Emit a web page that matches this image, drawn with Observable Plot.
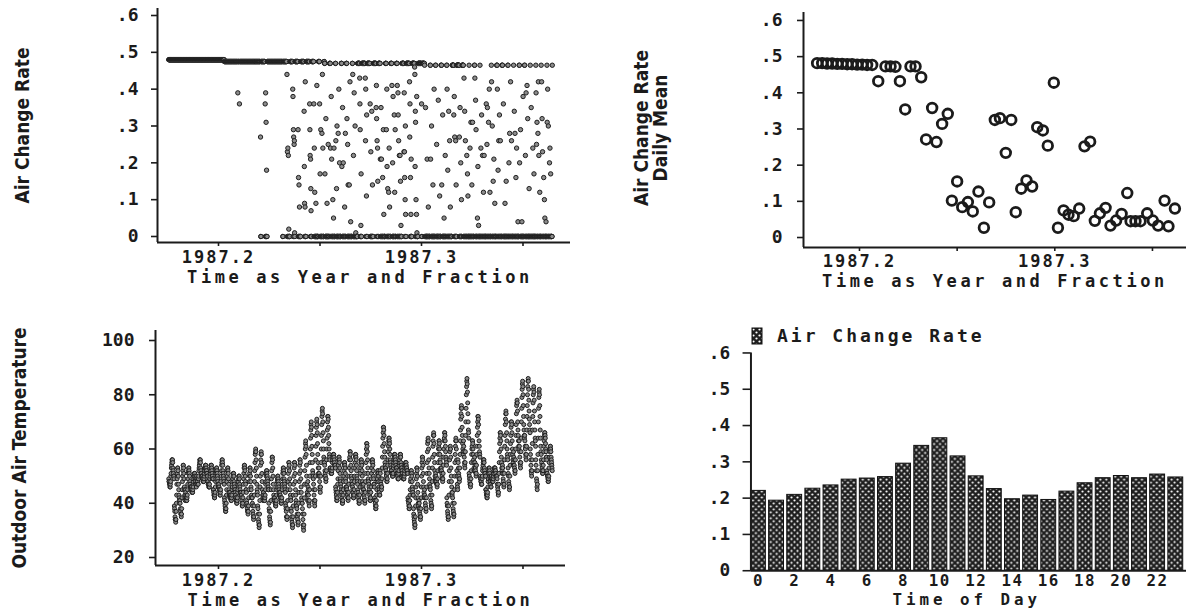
<!DOCTYPE html>
<html><head><meta charset="utf-8">
<script src="https://cdn.jsdelivr.net/npm/d3@7"></script>
<script src="https://cdn.jsdelivr.net/npm/@observablehq/plot@0.6"></script>
<style>
html,body{margin:0;padding:0;background:#fff;overflow:hidden;}
#chart{position:relative;width:1186px;height:611px;overflow:hidden;background:#fff;}
.panel{position:absolute;}
.panel svg{display:block;overflow:visible;}
g[aria-label="x-axis tick label"] text{letter-spacing:2px;}
.hourPanel g[aria-label="x-axis tick label"] text{letter-spacing:1.5px;}
#legend{position:absolute;left:752px;top:325px;}
#legend div{min-height:0 !important;margin:0 !important;}
#legend svg{margin-right:15px !important;}
#legend rect{stroke:#111;stroke-width:1px;}
</style></head>
<body>
<svg width="0" height="0" style="position:absolute"><defs>
<pattern id="acrDots" patternUnits="userSpaceOnUse" width="6" height="6">
<rect width="6" height="6" fill="#1e1e1e"/><circle cx="1.5" cy="1.5" r="1.1" fill="#fff"/><circle cx="4.5" cy="4.5" r="1.1" fill="#fff"/>
</pattern></defs></svg>
<div id="chart"></div>
<script>
// ---------- text ----------
const yTitleRate = "Air Change Rate";
const yTitleDaily = "Air Change Rate\nDaily Mean";
const yTitleTemp = "Outdoor Air Temperature";
const xTitleTime = "Time as Year and Fraction";
const xTitleHour = "Time of Day";
const legendLabel = "Air Change Rate";

// ---------- ticks ----------
const rateTicks = [0, 0.1, 0.2, 0.3, 0.4, 0.5, 0.6];
const rateTickLabels = ["0", ".1", ".2", ".3", ".4", ".5", ".6"];
const tempTicks = [20, 40, 60, 80, 100];
const tempTickLabels = ["20", "40", "60", "80", "100"];
const yearTicks = [1987.2, 1987.3];
const yearTickLabels = ["1987.2", "1987.3"];
const yearMinorTicks = [1987.2, 1987.25, 1987.3, 1987.35];
const hourTicks = [0, 2, 4, 6, 8, 10, 12, 14, 16, 18, 20, 22];
const hourTickLabels = ["0", "2", "4", "6", "8", "10", "12", "14", "16", "18", "20", "22"];

// ---------- hourly series (one row = one day, 24 hours) ----------
const hourlyStart = 1987.1755;   // decimal year of first hourly reading
const hoursPerYear = 8760;

// air change rate, hundredths
const acrHourlyPct = [
48,48,48,48,48,48,48,48,48,48,48,48,48,48,48,48,48,48,48,48,48,48,48,48,
48,48,48,48,48,48,48,48,48,48,48,48,48,48,48,48,48,48,48,48,48,48,48,48,
48,48,48,48,48,48,48,48,48,48,48,48,48,48,48,48,48,48,48,48,48,48,48,48,
48,48,48,48,48,48,48,48,48,48,48,48,48,48,48,48,48,48,48,48,48,48,48,48,
48,48,48,48,48,48,48,48,48,48,48,48,48,48,48,48,48,48,48,48,48,48,48,48,
48,48,48,48,48,48,48,48,48,48,48,48,48,48,48,48,48,48,48,48,48,48,48,48,
48,48,48,48,48,48,48,48,48,48,48,48,48,48,48,48,48,48,48,48,48,48,48,48,
48,48,48,48,48,48,48,48,48,48,48,48,48,48,48,48,48,48,48,48,48,48,48,48,
48,48,48,48,48,48,48,48,48,48,48,48,48,48,48,48,48,48,48,48,48,48,48,48,
48,48,48,48,48,48,48,48,48,48,48,48,48,48,48,48,48,48,48,48,48,48,48,48,
47.5,47.5,47.5,47.5,47.5,47.5,47.5,47.5,47.5,47.5,47.5,47.5,47.5,47.5,47.5,47.5,47.5,47.5,47.5,47.5,47.5,47.5,47.5,47.5,
47.5,47.5,47.5,47.5,47.5,47.5,47.5,47.5,47.5,47.5,47.5,47.5,47.5,47.5,47.5,47.5,47.5,47.5,47.5,47.5,47.5,47.5,47.5,47.5,
47.5,47.5,47.5,47.5,47.5,47.5,47.5,47.5,47.5,47.5,39,47.5,47.5,47.5,47.5,47.5,47.5,36,47.5,47.5,47.5,47.5,47.5,47.5,
47.5,47.5,47.5,47.5,47.5,47.5,47.5,47.5,47.5,47.5,47.5,47.5,47.5,47.5,47.5,47.5,47.5,47.5,47.5,47.5,47.5,47.5,47.5,47.5,
47.5,47.5,47.5,47.5,47.5,47.5,47.5,47.5,47.5,47.5,47.5,47.5,47.5,47.5,47.5,47.5,47.5,47.5,47.5,47.5,47.5,47.5,47.5,47.5,
47.5,47.5,47.5,47.5,47.5,47.5,47.5,47.5,47.5,47.5,47.5,47.5,47.5,47.5,47.5,47.5,47.5,47.5,47.5,47.5,47.5,47.5,47.5,47.5,
47.5,47.5,47.5,47.5,47.5,47.5,47.5,47.5,47.5,47.5,47.5,47.5,27,0,0,47.5,47.5,47.5,47.5,47.5,47.5,47.5,47.5,47.5,
47.5,47.5,47.5,47.5,47.5,47.5,47.5,47.5,36,0,39,0,31,0,18,0,0,47.5,47.5,47.5,47.5,47.5,47.5,47.5,
47.5,47.5,47.5,47.5,47.5,47.5,47.5,47.5,47.5,47.5,47.5,47.5,47.5,47.5,47.5,47.5,47.5,47.5,47.5,47.5,47.5,47.5,47.5,47.5,
47.5,47.5,47.5,47.5,47.5,47.5,47.5,47.5,47.5,47.5,47.5,47.5,47.5,47.5,47.5,47.5,47.5,47.5,47.5,47.5,47.5,47.5,47.5,47.5,
47.5,47.5,47.5,47.5,47.5,47.5,47.5,47.5,47.5,47.5,47.5,47.5,0,0,47.5,47.5,47.5,47.5,47.5,47.5,47.5,47.5,47.5,47.5,
47.5,47.5,47.5,47.5,47.5,47.5,44,0,23,0,24,0,22,0,2,0,0,0,0,47.5,47.5,47.5,47.5,47.5,
47.5,47.5,47.5,47.5,47.5,47.5,47.5,40,38,0,29,27,0,25,26,1,0,47.5,47.5,47.5,47.5,47.5,47.5,47.5,
47.5,47.5,47.5,47.5,47.5,47.5,29,0,16,0,14,0,8,0,0,0,0,0,47.5,47.5,47.5,47.5,47.5,47.5,
47.5,47.5,47.5,47.5,47.5,47.5,47.5,47.5,34,19,9,0,8,42,0,0,0,47.5,47.5,47.5,47.5,47.5,47.5,47.5,
47.5,47.5,47.5,47.5,47.5,47.5,47.5,47.5,36,29,22,0,21,13,7,0,0,47.5,47.5,47.5,47.5,47.5,47.5,47.5,
47.5,47.5,36,0,24,0,12,0,0,0,0,9,0,0,0,41,0,0,0,0,0,0,47.5,47.5,
47.5,47.5,47.5,36,0,17,0,0,29,0,0,0,0,28,0,44,0,24,0,0,0,0,47.5,47.5,
47,47,17,0,0,0,32,0,0,0,0,9,0,0,0,0,25,0,0,0,0,0,47,47,
47,47,24,0,0,38,0,21,0,0,0,0,10,0,0,5,0,24,0,0,0,0,0,47,
47,26,0,0,13,0,30,0,0,0,0,28,0,0,40,0,0,20,0,0,0,0,0,0,
47,47,47,19,0,0,35,0,0,20,0,0,0,0,0,8,0,0,28,0,0,0,47,47,
47,32,0,0,25,0,14,0,0,0,0,14,0,0,42,0,0,4,0,0,0,0,0,0,
47,47,44,0,0,22,0,0,39,0,0,0,30,0,0,1,0,0,0,0,0,0,0,47,
47,47,47,47,47,47,47,47,43,36,29,0,0,3,17,0,0,47,47,47,47,47,47,47,
47,47,47,47,47,47,47,47,43,26,40,0,0,11,33,0,0,47,47,47,47,47,47,47,
47,47,47,47,47,36,0,0,23,0,0,0,34,0,0,14,0,0,0,47,47,47,47,47,
47,47,47,47,47,47,47,35,41,32,0,26,0,24,15,0,0,47,47,47,47,47,47,47,
47,21,0,0,35,0,21,0,0,0,0,16,0,0,29,0,6,0,0,0,0,0,0,47,
47,47,47,29,0,40,19,0,0,13,0,0,0,12,0,24,0,8,0,0,0,0,47,47,
47,47,47,41,0,0,20,0,38,0,0,0,0,33,0,12,0,29,0,0,0,0,47,47,
47,47,41,0,0,39,33,0,26,0,0,22,0,0,22,0,15,0,3,0,0,0,47,47,
47,47,47,47,47,47,47,23,39,23,16,0,10,30,6,0,0,47,47,47,47,47,47,47,
47,47,47,47,47,47,47,42,27,36,0,16,0,6,21,0,0,0,47,47,47,47,47,47,
47,47,47,47,47,46,44,19,34,31,0,10,0,6,38,1,0,0,0,0,47,47,47,47,
47,47,47,47,47,47,47,47,47,47,47,36,0,0,47,47,47,47,47,47,47,47,47,47,
46.5,0,0,0,35,0,0,0,0,0,0,21,0,0,0,0,8,0,0,0,0,0,0,0,
46.5,46.5,21,0,0,0,30,0,0,0,0,0,14,0,0,0,0,40,0,0,0,0,0,46.5,
46.5,0,0,0,25,0,0,0,0,0,0,37,0,0,0,0,0,11,0,0,0,0,0,46.5,
46.5,46.5,14,0,0,0,33,0,0,0,0,0,5,0,0,0,0,22,0,0,0,0,0,46.5,
46.5,40,0,0,18,0,0,0,34,0,0,0,26,0,0,8,0,0,0,0,0,0,0,46.5,
46.5,46.5,46.5,46.5,46.5,46.5,33,0,38,0,27,0,0,0,26,0,14,0,0,46.5,46.5,46.5,46.5,46.5,
46.5,46.5,46.5,46.5,46.5,46.5,27,0,0,35,0,0,20,0,0,10,0,0,46.5,46.5,46.5,46.5,46.5,46.5,
0,0,43,0,0,34,0,0,26,0,0,0,0,0,22,0,0,17,0,11,0,0,0,0,
46.5,0,0,0,24,0,0,0,31,0,0,0,14,0,0,31,0,0,0,0,0,0,0,46.5,
46.5,43,0,0,37,0,29,0,0,0,0,0,5,0,19,0,0,3,0,0,0,0,0,46.5,
0,0,0,24,0,0,33,0,0,0,22,0,0,0,12,0,0,22,0,0,0,0,0,0,
0,0,36,0,0,25,0,35,0,0,0,0,31,0,0,40,0,0,12,0,0,0,0,0,
46.5,42,0,0,30,0,0,0,15,0,0,21,0,0,0,9,0,0,0,0,0,0,0,46.5,
46.5,46.5,40,0,0,18,0,0,26,0,0,33,0,0,0,26,0,0,0,0,0,0,46.5,46.5,
46.5,0,0,0,36,0,0,0,0,0,0,9,0,0,0,0,15,0,0,0,0,0,0,46.5,
46.5,0,0,0,20,0,0,28,0,0,0,42,0,0,0,26,0,0,0,0,0,0,0,0,
46.5,0,0,34,0,0,28,0,0,0,16,0,0,24,0,0,0,0,0,4,0,0,0,0,
46.5,46.5,20,0,0,0,29,0,0,0,0,0,4,0,0,0,0,38,0,0,0,0,0,46.5,
46.5,0,0,22,0,0,39,0,0,0,41,0,0,32,0,0,0,0,0,13,0,0,0,0,
46.5,0,0,0,35,0,0,0,0,0,0,24,0,0,0,0,17,0,0,0,0,0,0,0,
46.5,39,0,25,0,31,0,0,0,28,0,42,0,22,0,0,0,12,0,0,0,0,0,46.5,
0,42,0,32,0,23,0,0,0,0,16,0,0,10,0,5,0,0,0,0,4,0,0,0,
46.5,31,0,40,0,0,30,0,0,0,0,20,0,24,0,0,17,0,0,0,0,0,0,46.5
];

// outdoor air temperature, deg F
const tempHourly = [
49,48,48,47,47,46,46,47,48,50,51,53,54,55,56,56,56,55,53,52,51,50,50,49,
39,38,37,35,34,34,33,34,37,40,43,47,49,51,53,53,52,50,47,45,43,42,41,40,
41,40,38,37,36,36,35,36,38,42,45,48,50,52,54,54,53,51,49,46,45,43,42,41,
45,44,43,42,42,41,41,42,43,45,47,49,51,52,53,53,52,51,50,48,47,46,46,45,
46,46,45,45,44,44,44,44,45,46,48,49,50,50,51,51,51,50,49,48,47,47,47,46,
50,49,49,48,48,47,47,47,49,50,52,53,54,55,56,56,56,55,53,52,51,51,50,50,
50,49,49,49,48,48,48,48,49,50,51,52,53,53,54,54,54,53,52,52,51,51,50,50,
48,48,47,47,47,46,46,46,47,49,50,51,52,53,54,54,54,53,52,51,50,49,49,49,
45,45,44,43,43,42,42,43,44,46,48,49,51,52,53,53,52,51,50,49,48,47,46,46,
47,46,45,45,44,43,43,44,45,48,50,52,54,55,56,56,55,54,52,51,50,49,48,47,
42,41,40,39,38,37,37,38,40,43,45,48,50,52,53,53,52,51,49,47,45,44,43,42,
44,43,43,42,42,41,41,42,43,45,46,48,49,50,51,51,51,50,48,47,46,45,45,44,
43,42,42,41,41,40,40,41,42,44,45,47,48,49,50,50,50,49,47,46,45,44,44,43,
44,43,42,41,40,39,39,40,42,44,47,49,51,53,54,54,53,52,50,48,47,45,45,44,
41,40,39,38,37,37,36,37,39,42,45,48,50,51,53,53,52,50,48,46,45,43,42,42,
42,40,39,37,36,35,34,35,39,43,48,52,55,58,59,60,59,56,53,50,47,45,44,43,
39,38,36,34,33,32,31,32,36,41,46,50,54,56,58,59,58,55,51,48,45,43,42,41,
44,44,43,42,42,41,41,42,43,45,47,48,50,51,52,52,51,50,49,48,47,46,45,45,
40,38,37,35,34,33,32,33,37,41,45,49,52,55,57,57,56,53,50,47,45,43,42,41,
42,42,41,40,40,39,39,40,41,43,45,46,48,49,50,50,49,48,47,46,45,44,43,43,
44,43,42,42,41,40,40,41,42,45,47,49,51,52,53,53,52,51,49,48,47,46,45,44,
40,39,38,37,35,35,34,35,38,41,45,48,51,53,55,55,54,52,49,47,45,43,42,41,
38,37,35,34,33,32,31,32,35,39,43,47,50,53,55,55,54,51,48,45,43,41,40,39,
39,38,36,35,34,33,32,33,36,40,44,48,51,54,56,56,55,52,49,46,44,42,41,40,
40,38,36,34,32,31,30,32,36,42,47,52,57,60,62,63,61,58,54,50,47,44,43,41,
48,46,45,43,41,40,39,41,45,50,55,60,64,67,69,70,68,65,61,58,55,52,51,50,
49,47,45,43,41,40,39,41,45,50,56,61,65,68,70,71,69,66,62,58,55,53,51,50,
53,51,50,48,46,45,44,46,50,55,60,65,69,72,74,75,73,70,66,63,60,57,56,55,
55,54,52,51,50,49,48,49,52,56,60,64,67,70,72,72,71,68,65,62,60,58,57,56,
53,53,52,52,51,51,51,51,52,53,55,56,57,57,58,58,58,57,56,55,54,54,54,53,
46,45,44,43,42,41,41,42,44,47,49,52,54,56,57,57,56,55,53,51,49,48,47,46,
45,44,43,42,41,40,40,41,43,45,48,50,52,54,55,55,54,53,51,49,48,46,46,45,
46,45,44,43,42,42,41,42,44,47,50,53,56,57,59,59,58,56,54,52,50,49,48,47,
47,46,45,44,43,42,42,43,45,48,50,53,55,57,58,58,57,56,54,52,50,49,48,47,
45,44,43,42,41,40,40,41,43,46,48,51,53,55,56,56,55,54,52,50,48,47,46,45,
47,45,44,43,42,41,40,41,44,48,51,55,58,60,62,62,61,59,56,53,51,49,48,47,
46,45,44,43,42,41,41,42,44,46,49,51,53,55,56,56,55,54,52,50,49,47,47,46,
42,41,41,40,39,38,38,39,41,43,45,48,49,51,52,52,51,50,48,46,45,44,43,43,
52,51,49,48,47,46,45,46,49,53,57,61,64,66,68,68,67,65,62,59,57,55,54,53,
53,52,51,50,49,48,48,49,51,54,56,59,61,63,64,64,63,62,60,58,56,55,54,53,
52,52,51,51,51,50,50,50,51,53,54,55,56,57,58,58,58,57,56,55,54,53,53,53,
52,51,51,50,50,49,49,49,51,52,54,55,56,57,58,58,58,57,55,54,53,53,52,52,
51,50,50,50,49,49,49,49,50,51,52,53,54,54,55,55,55,54,53,53,52,52,51,51,
42,41,41,40,39,38,38,39,41,43,45,48,49,51,52,52,51,50,48,46,45,44,43,43,
38,36,35,34,33,32,31,32,35,39,42,46,49,51,53,53,52,50,47,44,42,40,39,38,
41,40,38,37,36,35,34,35,38,42,46,50,53,55,57,57,56,54,51,48,46,44,43,42,
45,43,42,40,39,38,37,38,42,46,51,55,59,62,63,64,63,60,56,53,51,49,47,46,
46,45,43,41,40,39,38,39,43,48,53,57,61,63,65,66,65,62,58,55,52,50,49,48,
51,50,49,48,47,47,46,47,49,52,55,58,60,61,63,63,62,60,58,56,55,53,52,52,
53,52,51,50,49,49,48,49,51,54,57,60,63,64,66,66,65,63,61,59,57,56,55,54,
42,40,39,37,36,35,34,35,39,43,48,52,56,59,60,61,60,57,53,50,48,46,44,43,
44,42,40,38,37,36,35,36,40,45,50,55,58,61,63,64,63,60,56,52,50,47,46,45,
56,55,53,51,50,49,48,49,53,58,63,67,71,73,75,76,75,72,68,65,62,60,59,58,
63,61,59,57,55,54,53,55,59,65,70,75,80,83,85,86,84,81,77,73,70,67,66,64,
51,50,49,48,47,47,46,47,49,52,55,58,60,61,63,63,62,60,58,56,55,53,52,52,
57,55,54,53,52,51,50,51,54,58,61,65,68,70,72,72,71,69,66,63,61,59,58,57,
50,49,49,48,48,47,47,47,49,50,52,53,54,55,56,56,56,55,53,52,51,51,50,50,
45,45,44,43,43,42,42,43,44,46,48,49,51,52,53,53,52,51,50,49,48,47,46,46,
50,49,49,49,48,48,48,48,49,50,51,51,52,53,53,53,53,52,52,51,50,50,50,50,
50,49,47,46,45,44,43,44,47,51,55,59,62,64,66,66,65,63,60,57,55,53,52,51,
54,53,51,49,48,47,46,47,51,56,61,65,69,71,73,74,73,70,66,63,60,58,57,56,
53,51,50,48,47,46,45,46,50,54,58,62,65,68,70,70,69,66,63,60,58,56,55,54,
59,57,56,54,53,52,51,52,56,60,65,69,73,76,77,78,77,74,70,67,65,63,61,60,
63,61,59,57,55,54,53,55,59,64,70,75,79,82,84,85,83,80,76,72,69,67,65,64,
65,63,61,60,58,57,56,58,61,67,72,76,80,83,85,86,85,82,78,74,71,69,67,66,
60,58,56,54,52,51,50,52,56,62,67,72,77,80,82,83,81,78,74,70,67,64,63,61,
56,54,52,49,48,46,45,47,52,58,64,70,75,79,81,82,80,76,72,67,64,61,59,58,
56,55,54,53,52,51,51,52,54,56,59,61,63,65,66,66,65,64,62,60,59,57,57,56,
52,51,50,50,49,48,48,49,50,53,55,57,59,60,61,61,60,59,57,56,55,54,53,52
];

// ---------- daily mean air change rate ----------
const dailyTime = [1987.1783,1987.1809,1987.1834,1987.1860,1987.1886,1987.1911,1987.1937,1987.1962,1987.1988,1987.2014,1987.2039,1987.2065,
1987.2096,1987.2133,1987.2159,1987.2184,1987.2207,1987.2234,1987.2261,1987.2287,1987.2316,1987.2341,1987.2372,1987.2394,1987.2423,1987.2452,
1987.2473,1987.2500,1987.2526,1987.2555,1987.2580,1987.2609,1987.2637,1987.2664,1987.2693,1987.2719,1987.2749,1987.2777,1987.2800,1987.2828,
1987.2855,1987.2884,1987.2910,1987.2939,1987.2964,1987.2995,1987.3016,1987.3045,1987.3070,1987.3097,1987.3125,1987.3152,1987.3181,1987.3205,
1987.3231,1987.3260,1987.3285,1987.3314,1987.3342,1987.3371,1987.3388,1987.3413,1987.3439,1987.3473,1987.3502,1987.3529,1987.3562,1987.3582,1987.3615];
const dailyMean = [0.482,0.482,0.481,0.481,0.480,0.480,0.479,0.479,0.478,0.478,0.477,0.477,
0.432,0.473,0.473,0.472,0.432,0.354,0.473,0.473,0.443,0.271,0.358,0.264,0.314,0.342,
0.102,0.155,0.084,0.098,0.072,0.127,0.027,0.097,0.325,0.330,0.234,0.325,0.070,0.135,
0.158,0.141,0.305,0.296,0.254,0.428,0.027,0.075,0.063,0.059,0.080,0.252,0.265,0.046,
0.067,0.082,0.033,0.047,0.065,0.123,0.045,0.045,0.045,0.067,0.047,0.033,0.102,0.031,0.080];

// ---------- mean air change rate by hour of day ----------
const hourOfDay = [0,1,2,3,4,5,6,7,8,9,10,11,12,13,14,15,16,17,18,19,20,21,22,23];
const hourMeanRate = [0.220,0.193,0.209,0.226,0.235,0.251,0.254,0.258,0.295,0.344,0.365,0.315,
0.260,0.225,0.197,0.207,0.195,0.218,0.241,0.255,0.261,0.255,0.265,0.257];

// ---------- build tables ----------
const acrRows = acrHourlyPct.map((v, i) => ({t: hourlyStart + i / hoursPerYear, v: v / 100}));
const tempRows = tempHourly.map((v, i) => ({t: hourlyStart + i / hoursPerYear, v}));
const dailyRows = dailyTime.map((t, i) => ({t, v: dailyMean[i]}));
const hourRows = hourOfDay.map((h, i) => ({hour: h, rate: hourMeanRate[i]}));

const ink = "#1b1b1b";
const barFill = "url(#acrDots)";
const monoFont = "'DejaVu Sans Mono', monospace";
const titleFont = "'DejaVu Sans Condensed', 'Liberation Sans Narrow', 'DejaVu Sans', sans-serif";
const baseStyle = {fontFamily: monoFont, fontSize: "18px", fontWeight: "bold", color: ink, background: "transparent", overflow: "visible"};

const fmtFrom = (ticks, labels) => d => labels[ticks.indexOf(d)];

function yearAxes(labelPad) {
  return [
    Plot.axisX({ticks: yearMinorTicks, tickFormat: () => "", tickSize: 4, strokeWidth: 1.6, stroke: ink, label: null}),
    Plot.axisX({ticks: yearTicks, tickFormat: fmtFrom(yearTicks, yearTickLabels), tickSize: 0, tickPadding: labelPad, fontSize: 17, fill: ink, label: null})
  ];
}
function yTitle(text, dx, dy) {
  return Plot.text([text], {text: d => d, frameAnchor: "left", rotate: -90, dx, dy: dy || 0, textAnchor: "middle", lineAnchor: "middle",
    fontFamily: titleFont, fontWeight: "bold", fontSize: 19, lineHeight: 1.0, fill: ink});
}
function xTitle(text, dy, dx, fs) {
  return Plot.text([text], {text: d => d, frameAnchor: "bottom", dy, dx, lineAnchor: "bottom", fontSize: fs, fill: ink});
}
function spaceText(svg, text, ls) {
  d3.select(svg).selectAll("text").filter(function () { return this.textContent === text; }).style("letter-spacing", ls);
}

// Panel 1: hourly air change rate
const xDom1 = [1987.16995, 1987.3734], yDom1 = [-0.0163, 0.619];
const p1 = Plot.plot({
  width: 600, height: 300, marginLeft: 157, marginRight: 30, marginTop: 8, marginBottom: 58,
  x: {domain: xDom1, label: null}, y: {domain: yDom1, label: null}, style: baseStyle,
  marks: [
    Plot.dot(acrRows, {x: "t", y: "v", r: 2.2, fill: "#8c8c8c", stroke: "#1e1e1e", strokeWidth: 1}),
    Plot.ruleX([xDom1[0]], {stroke: ink, strokeWidth: 2}),
    Plot.ruleY([yDom1[0]], {stroke: ink, strokeWidth: 2}),
    Plot.axisY({ticks: rateTicks, tickFormat: fmtFrom(rateTicks, rateTickLabels), tickSize: 6, tickPadding: 13, strokeWidth: 1.6, stroke: ink, fill: ink, label: null}),
    ...yearAxes(8),
    xTitle(xTitleTime, 40, -4, 17),
    yTitle(yTitleRate, -135)
  ]
});

// Panel 2: daily mean
const xDom2 = [1987.17133, 1987.36743], yDom2 = [-0.0276, 0.622];
const p2 = Plot.plot({
  width: 586, height: 300, marginLeft: 203, marginRight: 0, marginTop: 12, marginBottom: 53,
  x: {domain: xDom2, label: null}, y: {domain: yDom2, label: null}, style: baseStyle,
  marks: [
    Plot.dot(dailyRows, {x: "t", y: "v", r: 4.8, fill: "none", stroke: ink, strokeWidth: 2.8}),
    Plot.ruleX([xDom2[0]], {stroke: ink, strokeWidth: 2}),
    Plot.ruleY([yDom2[0]], {stroke: ink, strokeWidth: 2}),
    Plot.axisY({ticks: rateTicks, tickFormat: fmtFrom(rateTicks, rateTickLabels), tickSize: 6, tickPadding: 15, strokeWidth: 1.6, stroke: ink, fill: ink, label: null}),
    ...yearAxes(7),
    xTitle(xTitleTime, 39, 0, 17),
    yTitle(yTitleDaily, -152, -2)
  ]
});

// Panel 3: outdoor temperature
const xDom3 = [1987.16897, 1987.37094], yDom3 = [17.05, 103.69];
const p3 = Plot.plot({
  width: 600, height: 311, marginLeft: 155, marginRight: 35, marginTop: 30, marginBottom: 46,
  x: {domain: xDom3, label: null}, y: {domain: yDom3, label: null}, style: baseStyle,
  marks: [
    Plot.dot(tempRows, {x: "t", y: "v", r: 2.0, fill: "#8c8c8c", stroke: "#1e1e1e", strokeWidth: 1}),
    Plot.ruleX([xDom3[0]], {stroke: ink, strokeWidth: 2}),
    Plot.ruleY([yDom3[0]], {stroke: ink, strokeWidth: 2}),
    Plot.axisY({ticks: tempTicks, tickFormat: fmtFrom(tempTicks, tempTickLabels), tickSize: 6, tickPadding: 15, strokeWidth: 1.6, stroke: ink, fill: ink, label: null}),
    ...yearAxes(8),
    xTitle(xTitleTime, 40, 0, 17),
    yTitle(yTitleTemp, -136)
  ]
});

// Panel 4: hour-of-day bars
const xDom4 = [0, 24], yDom4 = [0, 0.6];
const p4 = Plot.plot({
  width: 592, height: 311, marginLeft: 152, marginRight: 0, marginTop: 53, marginBottom: 38,
  x: {domain: xDom4, label: null}, y: {domain: yDom4, label: null}, style: baseStyle,
  marks: [
    Plot.rectY(hourRows, {x1: "hour", x2: d => d.hour + 1, y: "rate", insetRight: 3.3, fill: barFill, stroke: "#111", strokeWidth: 1}),
    Plot.ruleX([xDom4[0]], {stroke: ink, strokeWidth: 2}),
    Plot.ruleY([yDom4[0]], {stroke: ink, strokeWidth: 2}),
    Plot.axisY({ticks: rateTicks, tickFormat: fmtFrom(rateTicks, rateTickLabels), tickSize: 8, tickPadding: 13, strokeWidth: 1.6, stroke: ink, fill: ink, label: null}),
    Plot.axisX({ticks: hourTicks, tickFormat: fmtFrom(hourTicks, hourTickLabels), tickSize: 0, tickPadding: 4, dx: 7.5, fontSize: 16, fill: ink, label: null}),
    xTitle(xTitleHour, 34.3, -2, 16)
  ]
});

[p1, p2, p3].forEach(s => spaceText(s, xTitleTime, "3.6px"));
spaceText(p4, xTitleHour, "4px");

const legend = Plot.legend({
  color: {type: "ordinal", domain: [legendLabel], range: [barFill]},
  swatchWidth: 10, swatchHeight: 16,
  style: {fontFamily: monoFont, fontSize: "18px", fontWeight: "bold", letterSpacing: "3px", color: ink, background: "transparent"}
});

const chart = document.getElementById("chart");
function place(node, left, top, cls) {
  const d = document.createElement("div");
  d.className = "panel" + (cls ? " " + cls : "");
  d.style.left = left + "px"; d.style.top = top + "px";
  d.appendChild(node); chart.appendChild(d);
}
place(p1, 0, 0);
place(p2, 600, 0);
place(p3, 0, 300);
place(p4, 600, 300, "hourPanel");
const lg = document.createElement("div"); lg.id = "legend"; lg.appendChild(legend); chart.appendChild(lg);
</script>
</body></html>
